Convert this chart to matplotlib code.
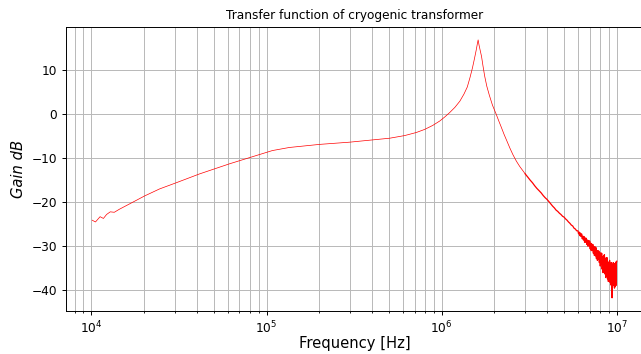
import matplotlib
matplotlib.use("Agg")
import matplotlib.pyplot as plt
import numpy as np

# Smooth part of the measured transfer function (Hz, dB)
freq_smooth = [1.01e4, 1.054e4, 1.12e4, 1.17e4, 1.22e4, 1.28e4, 1.35e4, 1.445e4,
               1.65e4, 2.01e4, 2.45e4, 3.05e4, 4.14e4, 6.15e4, 9.12e4, 1.08e5,
               1.35e5, 2.01e5, 2.98e5, 5.05e5, 6.15e5, 7.17e5, 8.0e5, 8.89e5,
               9.75e5, 1.04e6, 1.11e6, 1.19e6, 1.27e6, 1.34e6, 1.40e6, 1.45e6,
               1.50e6, 1.54e6, 1.575e6, 1.60e6, 1.615e6, 1.635e6, 1.66e6, 1.69e6,
               1.72e6, 1.76e6, 1.81e6, 1.87e6, 1.95e6, 2.05e6, 2.12e6, 2.19e6,
               2.27e6, 2.35e6, 2.45e6, 2.55e6, 2.67e6, 2.79e6, 2.90e6, 3.0e6]
gain_smooth = [-24.1, -24.5, -23.3, -23.7, -22.8, -22.2, -22.3, -21.6,
               -20.4, -18.6, -17.0, -15.6, -13.6, -11.3, -9.2, -8.3,
               -7.6, -6.9, -6.4, -5.5, -4.9, -4.2, -3.5, -2.6,
               -1.6, -0.7, 0.3, 1.5, 2.9, 4.5, 6.1, 8.2,
               10.5, 12.6, 14.5, 16.0, 16.8, 15.6, 14.4, 13.0,
               11.0, 8.6, 6.3, 4.3, 2.0, -0.1, -1.6, -3.0,
               -4.6, -6.0, -7.7, -9.2, -10.7, -11.9, -12.8, -13.6]

# Slightly noisy roll-off (MHz, dB)
freq_mid_mhz = [3.0, 3.1, 3.2, 3.3, 3.4, 3.5, 3.6, 3.7, 3.8, 3.9,
                4.0, 4.1, 4.2, 4.3, 4.4, 4.5, 4.6, 4.7, 4.8, 4.9,
                5.0, 5.1, 5.2, 5.3, 5.4, 5.5, 5.6, 5.7, 5.8, 5.9]
gain_mid = [-13.6, -14.3, -15.0, -15.6, -16.3, -16.9, -17.4, -17.9, -18.5, -19.0,
            -19.4, -19.9, -20.4, -20.9, -21.3, -21.8, -22.1, -22.5, -22.8, -23.2,
            -23.4, -23.8, -24.1, -24.5, -24.8, -25.2, -25.4, -25.9, -26.1, -26.5]

# Noisy high-frequency end (MHz, dB)
freq_hi_mhz = [6.00, 6.05, 6.10, 6.15, 6.20, 6.25, 6.30, 6.35, 6.40, 6.45,
               6.50, 6.55, 6.60, 6.65, 6.70, 6.75, 6.80, 6.85, 6.90, 6.95,
               7.00, 7.05, 7.10, 7.15, 7.20, 7.25, 7.30, 7.35, 7.40, 7.45,
               7.50, 7.55, 7.60, 7.65, 7.70, 7.75, 7.80, 7.85, 7.90, 7.95,
               8.00, 8.05, 8.10, 8.15, 8.20, 8.25, 8.30, 8.35, 8.40, 8.45,
               8.50, 8.55, 8.60, 8.65, 8.70, 8.75, 8.80, 8.85, 8.90, 8.95,
               9.00, 9.05, 9.10, 9.15, 9.20, 9.25, 9.30, 9.35, 9.40, 9.45,
               9.50, 9.55, 9.60, 9.65, 9.70, 9.75, 9.80, 9.85, 9.90, 9.95, 10.00]
gain_hi = [-26.5, -27.2, -26.8, -27.6, -27.0, -27.8, -27.2, -28.3, -27.7, -28.6,
           -27.8, -29.1, -28.1, -29.1, -28.2, -29.6, -28.6, -30.0, -28.7, -29.9,
           -28.8, -30.6, -29.3, -31.0, -29.5, -31.0, -29.6, -31.6, -30.2, -32.1,
           -30.1, -32.2, -30.3, -32.8, -31.0, -33.2, -31.0, -33.0, -31.1, -33.7,
           -31.6, -34.5, -31.5, -34.1, -31.6, -35.2, -32.4, -36.0, -32.2, -35.8,
           -31.9, -36.3, -33.3, -37.1, -32.6, -36.5, -32.6, -37.4, -33.6, -38.0,
           -33.6, -37.3, -33.2, -38.2, -34.3, -38.8, -33.7, -38.3, -41.7, -34.1,
           -39.0, -33.7, -38.4, -33.9, -39.5, -34.5, -39.2, -33.6, -38.9, -33.8, -33.4]

freq_noisy = np.concatenate([np.array(freq_mid_mhz), np.array(freq_hi_mhz)]) * 1e6
gain_noisy = np.concatenate([gain_mid, gain_hi])

fig = plt.figure(figsize=(6.41, 3.54), dpi=100)
ax = fig.add_axes([66/641, 1 - 310.7/354, (643 - 66)/641, (310.7 - 27)/354])
ax.semilogx(freq_smooth, gain_smooth, color='red', linewidth=0.5)
ax.semilogx(freq_noisy, gain_noisy, color='red', linewidth=0.9)
ax.grid(True, which='both', color='#b8b8b8', linewidth=0.7)
ax.set_title('Transfer function of cryogenic transformer', fontsize=8.7)
ax.set_xlabel('Frequency [Hz]', fontsize=10.6, labelpad=0)
ax.set_ylabel('Gain dB', fontsize=10.6, style='italic')
ax.tick_params(axis='both', which='major', labelsize=8.7, length=3, width=0.7)
ax.tick_params(axis='both', which='minor', length=1.7, width=0.6)
for s in ax.spines.values():
    s.set_linewidth(0.7)
ax.spines['right'].set_visible(False)
fig.savefig('out.png', dpi=100)
